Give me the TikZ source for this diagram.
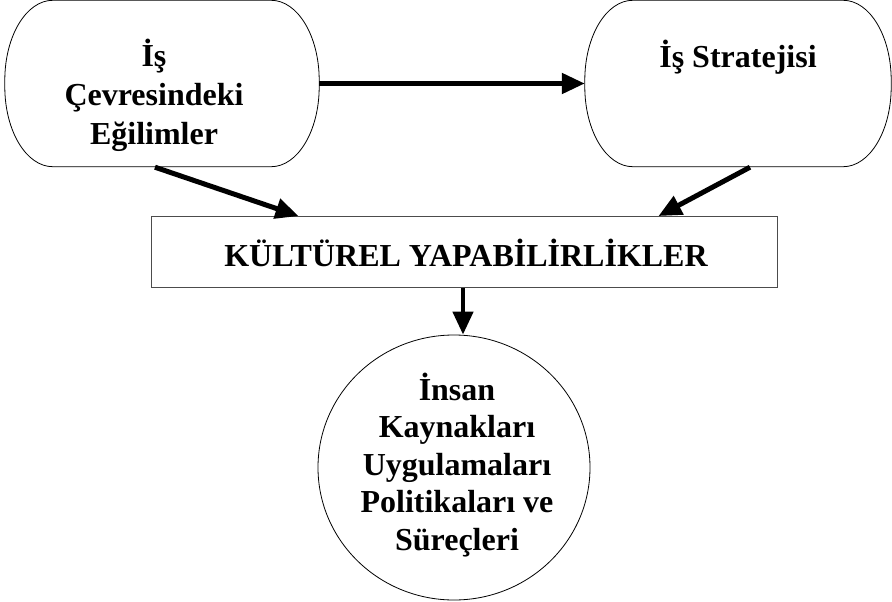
\documentclass[tikz,border=0pt]{standalone}
\usepackage{fontspec}
\setmainfont{Liberation Serif}
\usetikzlibrary{arrows.meta,shapes.geometric,calc}
\begin{document}
\begin{tikzpicture}[x=1pt,y=-1pt,
  lbl/.style={font=\fontsize{32}{39}\selectfont\bfseries,align=center,inner sep=0pt},
  box/.style={inner sep=0pt},
  pillline/.style={draw=black,line width=0.8pt},
  conn/.style={line width=5pt,-{Triangle[length=23pt,width=20pt]}}]
\useasboundingbox (0,0) rectangle (892,602);
\node[box,minimum width=314pt,minimum height=166pt] (L) at (162,83.5) {};
\node[box,minimum width=306pt,minimum height=166pt] (R) at (738,83.5) {};
\foreach \n in {L,R}{
  \draw[pillline] ($(\n.north west)+(48,0)$) -- ($(\n.north east)+(-48,0)$)
    arc[start angle=90,end angle=0,x radius=48pt,y radius=80pt]
    -- ($(\n.south east)+(0,-80)$)
    arc[start angle=0,end angle=-90,x radius=48pt,y radius=80pt]
    -- ($(\n.south west)+(48,0)$)
    arc[start angle=270,end angle=180,x radius=48pt,y radius=80pt]
    -- ($(\n.north west)+(0,80)$)
    arc[start angle=180,end angle=90,x radius=48pt,y radius=80pt] -- cycle;
}
\node[lbl] (Lt) at (154,95) {İş\\Çevresindeki\\Eğilimler};
\node[lbl] (Rt) at (738,57) {İş Stratejisi};
\node[draw=black!70,line width=0.9pt,minimum width=626pt,minimum height=71pt,inner sep=0pt] (K) at (464,252) {};
\node[lbl] (Kt) at (466,253) {KÜLTÜREL YAPABİLİRLİKLER};
\node[draw=black,line width=0.8pt,ellipse,minimum width=272pt,minimum height=265pt,inner sep=0pt] (C) at (454,467.5) {};
\node[lbl,font=\fontsize{32}{37.5}\selectfont\bfseries] (Ct) at (457,465) {İnsan\\Kaynakları\\Uygulamaları\\Politikaları ve\\Süreçleri};
\coordinate (a1) at ($(L.south)+(-7,0.5)$);
\coordinate (a1e) at ($(K.north west)+(148,0)$);
\coordinate (a2) at ($(R.south)+(12,0.5)$);
\coordinate (a2e) at ($(K.north east)+(-119,0)$);
\draw[conn] (L.east) -- (R.west);
\draw[conn] (a1) -- (a1e);
\draw[conn] (a2) -- (a2e);
\draw[conn,line width=4.5pt] (K.south -| 463,0) -- (C.north -| 463,0);
\end{tikzpicture}
\end{document}
